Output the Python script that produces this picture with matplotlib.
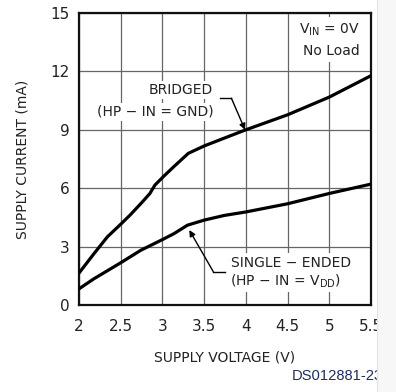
import matplotlib
matplotlib.use("Agg")
import matplotlib.pyplot as plt
from matplotlib.patches import Rectangle

# data
bridged_v = [2.0, 2.18, 2.34, 2.5, 2.61, 2.75, 2.85, 2.91, 3.01, 3.14, 3.31, 3.5, 3.74, 4.0, 4.5, 5.0, 5.5]
bridged_ma = [1.64, 2.64, 3.5, 4.15, 4.61, 5.25, 5.73, 6.16, 6.59, 7.12, 7.79, 8.17, 8.57, 9.0, 9.77, 10.68, 11.78]

single_v = [2.0, 2.18, 2.5, 2.74, 3.0, 3.14, 3.3, 3.5, 3.74, 4.0, 4.5, 5.0, 5.5]
single_ma = [0.83, 1.35, 2.17, 2.81, 3.36, 3.67, 4.1, 4.36, 4.6, 4.78, 5.2, 5.73, 6.21]

x_ticks = [2, 2.5, 3, 3.5, 4, 4.5, 5, 5.5]
x_tick_labels = ["2", "2.5", "3", "3.5", "4", "4.5", "5", "5.5"]
y_ticks = [0, 3, 6, 9, 12, 15]

txt = "#222222"

fig = plt.figure(figsize=(3.96, 3.92), dpi=100)
ax = fig.add_axes([79 / 396, 87 / 392, 292 / 396, 292 / 392])

ax.set_xlim(2, 5.5)
ax.set_ylim(0, 15)
ax.set_xticks(x_ticks)
ax.set_xticklabels(x_tick_labels)
ax.set_yticks(y_ticks)
ax.tick_params(length=0, labelsize=11, labelcolor=txt)
ax.tick_params(axis="x", pad=10)
ax.tick_params(axis="y", pad=6.5)
ax.grid(True, color="#666666", linewidth=0.9)
ax.set_axisbelow(True)
for s in ax.spines.values():
    s.set_linewidth(1.6)
    s.set_color("#111111")

ax.plot(bridged_v, bridged_ma, color="black", linewidth=2.3, solid_capstyle="round", zorder=3)
ax.plot(single_v, single_ma, color="black", linewidth=2.3, solid_capstyle="round", zorder=3)

ax.set_xlabel("SUPPLY VOLTAGE (V)", fontsize=10, color=txt)
ax.set_ylabel("SUPPLY CURRENT (mA)", fontsize=10, color=txt)
ax.xaxis.set_label_coords(0.5, -0.18)
ax.yaxis.set_label_coords(-0.195, 0.5)
ax.xaxis.label.set_va("center")
ax.yaxis.label.set_va("center")

box = dict(facecolor="white", edgecolor="none", pad=1.5)

# bridged label + leader
ax.text(3.60, 11.04, "BRIDGED", ha="right", va="center", fontsize=10, color=txt, bbox=box, zorder=4)
ax.text(3.61, 9.93, "(HP \u2212 IN = GND)", ha="right", va="center", fontsize=10, color=txt, bbox=box, zorder=4)
ax.plot([3.695, 3.827], [10.62, 10.62], color="black", linewidth=1, zorder=4)
ax.annotate("", xy=(3.99, 9.0), xytext=(3.827, 10.62),
            arrowprops=dict(arrowstyle="-|>", color="black", lw=1, mutation_scale=9,
                            shrinkA=0, shrinkB=0), zorder=4)

# single-ended label + leader
ax.text(3.82, 2.18, "SINGLE \u2212 ENDED", ha="left", va="center", fontsize=10, color=txt, bbox=box, zorder=4)
ax.text(3.81, 1.2, "(HP \u2212 IN = V$_{\\mathrm{DD}}$)", ha="left", va="center", fontsize=10, color=txt,
        bbox=box, zorder=4)
ax.plot([3.75, 3.61], [1.71, 1.71], color="black", linewidth=1, zorder=4)
ax.annotate("", xy=(3.322, 3.85), xytext=(3.61, 1.71),
            arrowprops=dict(arrowstyle="-|>", color="black", lw=1, mutation_scale=9,
                            shrinkA=0, shrinkB=0), zorder=4)

# conditions
ax.text(5.37, 14.15, "V$_{\\mathrm{IN}}$ = 0V", ha="right", va="center", fontsize=10, color=txt,
        bbox=dict(facecolor="white", edgecolor="none", pad=3), zorder=4)
ax.text(5.37, 13.05, "No Load", ha="right", va="center", fontsize=10, color=txt,
        bbox=dict(facecolor="white", edgecolor="none", pad=3), zorder=4)

fig.text(292 / 396, 16 / 392, "DS012881-23", fontsize=10.6, color="#1f2f5f",
         family="Liberation Sans", ha="left", va="center")

# light strip at right edge of the scan
fig.patches.append(Rectangle((377 / 396, 0), 19 / 396, 1, transform=fig.transFigure,
                             facecolor="#f7f7f7", edgecolor="none", zorder=10))
fig.lines.append(plt.Line2D([377 / 396, 377 / 396], [0, 1], transform=fig.transFigure,
                            color="#e2e2e2", linewidth=0.8, zorder=11))

fig.savefig("out.png", dpi=100)
